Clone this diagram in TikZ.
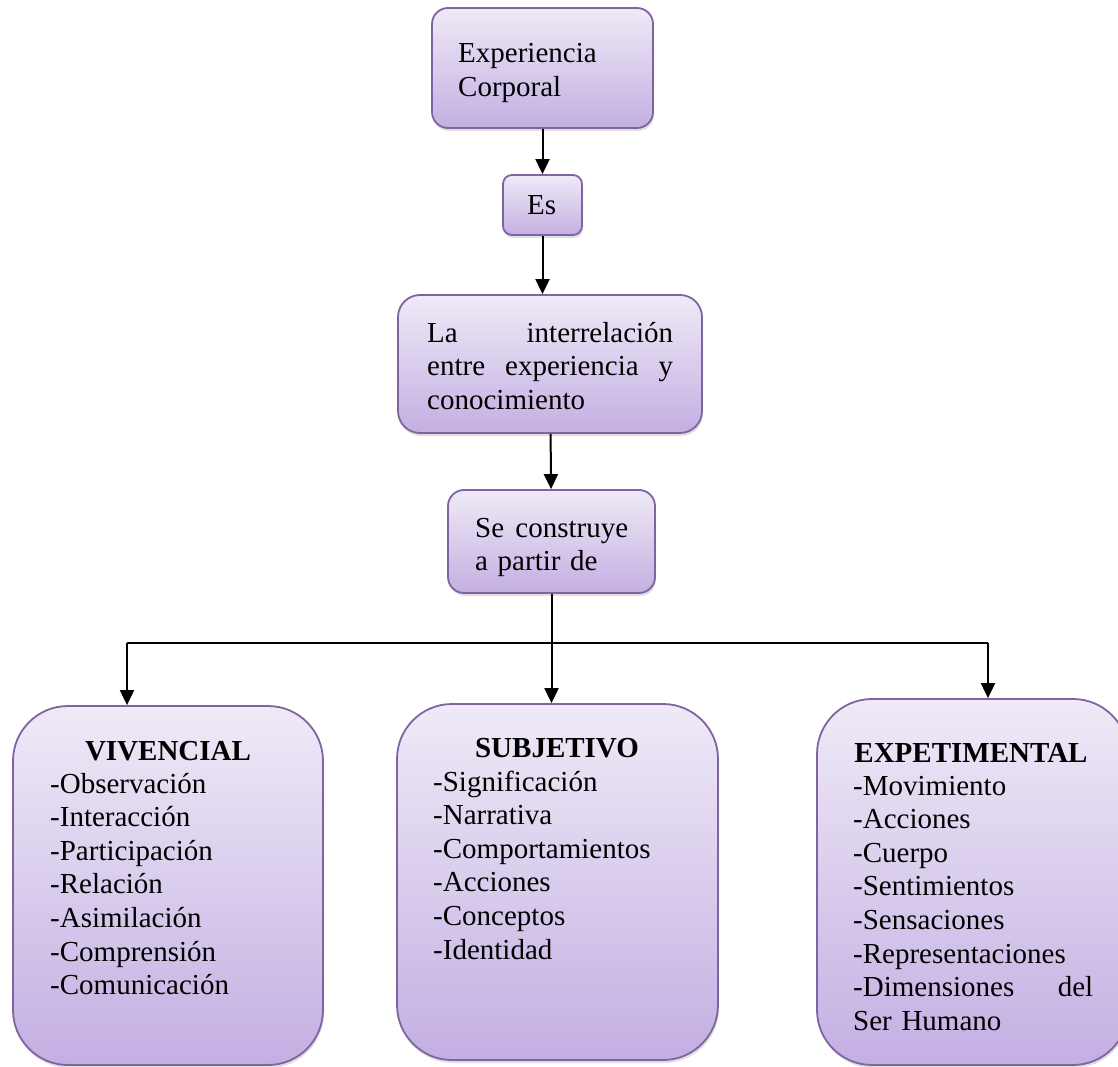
\documentclass[tikz,border=0pt]{standalone}
\usepackage{fontspec}
\setmainfont{Liberation Serif}
\usetikzlibrary{arrows.meta,shadows}
\definecolor{lilaborde}{HTML}{8064A2}
\definecolor{lilaclaro}{HTML}{EFEAF7}
\definecolor{lilaoscuro}{HTML}{C3AFE2}
\tikzset{
	caja/.style = {draw = lilaborde, line width = 1.8pt, top color = lilaclaro, bottom color = lilaoscuro, inner sep = 0pt, drop shadow = {shadow xshift = 1pt, shadow yshift = -3pt, opacity = 0.25}},
	texto/.style = {inner sep = 0pt, anchor = base west, font = \fontsize{29}{33.6}\selectfont},
	titulo/.style = {texto, anchor = base, font = \fontsize{29}{33.6}\selectfont\bfseries},
	flecha/.style = {line width = 2pt, -{Triangle[length = 15pt, width = 14pt]}}
}
\begin{document}
\begin{tikzpicture}[x = 1pt, y = -1pt]
	\useasboundingbox (0, 0) rectangle (1118, 1067);
	\clip (0, 0) rectangle (1118, 1067);
	% cajas de arriba
	\node[caja, minimum width = 221, minimum height = 120, rounded corners = 16] (experiencia) at (542.5, 68) {};
	\node[caja, minimum width = 79, minimum height = 60, rounded corners = 9] (es) at (542.5, 205) {};
	\node[caja, minimum width = 304, minimum height = 138, rounded corners = 22] (interrelacion) at (550, 364) {};
	\node[caja, minimum width = 207, minimum height = 103, rounded corners = 16] (construye) at (551.5, 541.5) {};
	\node[texto, text width = 200] (experiencia-txt) at (458, 63) {Experiencia\\Corporal};
	\node[texto] (es-txt) at (527, 215) {Es};
	\node[texto, text width = 246] (interrelacion-txt) at (427, 342) {La\hfill interrelación\\entre\hfill experiencia\hfill y\\conocimiento};
	\node[texto, text width = 153] (construye-txt) at (475, 537) {Se\hfill construye\\a partir de};
	% cajas de abajo
	\node[caja, minimum width = 310, minimum height = 359, rounded corners = 55] (vivencial) at (168, 885.5) {};
	\node[caja, minimum width = 321, minimum height = 356, rounded corners = 55] (subjetivo) at (557.5, 882) {};
	\node[caja, minimum width = 311, minimum height = 366, rounded corners = 55] (expetimental) at (972.5, 882) {};
	\node[titulo] (vivencial-tit) at (168, 760) {VIVENCIAL};
	\node[titulo] (subjetivo-tit) at (557, 757) {SUBJETIVO};
	\node[titulo] (expetimental-tit) at (971, 762) {EXPETIMENTAL};
	\node[texto, text width = 240] (vivencial-lista) at (50, 793) {-Observación\\-Interacción\\-Participación\\-Relación\\-Asimilación\\-Comprensión\\-Comunicación};
	\node[texto, text width = 240] (subjetivo-lista) at (433, 791) {-Significación\\-Narrativa\\-Comportamientos\\-Acciones\\-Conceptos\\-Identidad};
	\node[texto, text width = 240] (expetimental-lista) at (853, 795) {-Movimiento\\-Acciones\\-Cuerpo\\-Sentimientos\\-Sensaciones\\-Representaciones\\-Dimensiones\hfill del\\Ser Humano};
	% flechas
	\draw[flecha] (experiencia) -- (es);
	\draw[flecha] (es) -- (es |- interrelacion.north);
	\draw[flecha] (interrelacion) -- (construye);
	\draw[flecha] (construye) -- (construye |- subjetivo.north);
	\coordinate (izq) at (127, 643);
	\coordinate (der) at (988, 643);
	\draw[line width = 2pt] (izq) -- (der);
	\draw[flecha] (izq) -- (izq |- vivencial.north);
	\draw[flecha] (der) -- (der |- expetimental.north);
\end{tikzpicture}
\end{document}
